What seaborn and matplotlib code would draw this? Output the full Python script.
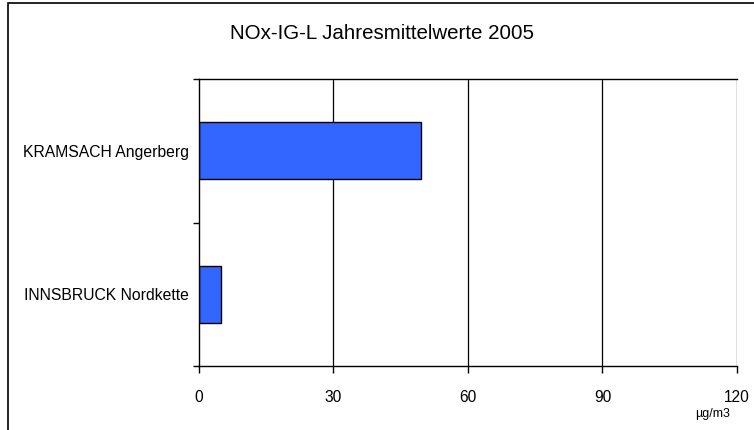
"""
NOx IG-L Jahresmittelwerte 2005 - horizontales Balkendiagramm
"""

import matplotlib
matplotlib.use("Agg")
import matplotlib.pyplot as plt
import pandas as pd
import seaborn as sns
from matplotlib.patches import Rectangle
from matplotlib.ticker import FixedLocator

stationen = ["KRAMSACH Angerberg", "INNSBRUCK Nordkette"]
werte = [49.6, 4.9]
x_ticks = [0, 30, 60, 90, 120]
titel = "NOx-IG-L Jahresmittelwerte 2005"
einheit = "µg/m3"

sns.set_theme(style="white")
plt.rcParams["font.family"] = ["Liberation Sans", "DejaVu Sans"]
plt.rcParams["text.color"] = "black"
plt.rcParams["xtick.color"] = "black"
plt.rcParams["ytick.color"] = "black"

df = pd.DataFrame({"station": stationen, "wert": werte})

fig = plt.figure(figsize=(7.54, 4.30), dpi=100)
ax = fig.add_axes([0.2639, 0.1488, 0.7135, 0.6674])

sns.barplot(data=df, y="station", x="wert", orient="h", color="#3366FF",
            saturation=1, width=0.4, edgecolor="black", linewidth=1, ax=ax)

ax.set_xlim(0, 120)
ax.set_ylim(1.5, -0.5)
ax.set_xticks(x_ticks)
ax.set_xticklabels([str(t) for t in x_ticks], fontsize=11.2)
ax.set_xlabel("")
ax.set_ylabel("")
ax.set_yticklabels(stationen, fontsize=11.3)
ax.yaxis.set_minor_locator(FixedLocator([-0.5, 0.5, 1.5]))
ax.tick_params(axis="y", which="major", length=0, pad=7)
ax.tick_params(axis="y", which="minor", length=4, width=1, color="black", left=True)
ax.tick_params(axis="x", which="major", length=5, width=1, color="black",
               bottom=True, pad=12)

ax.grid(False)
for t in x_ticks[1:]:
    ax.axvline(t, color="black", lw=0.9, zorder=0)

for side in ["left", "bottom", "top"]:
    ax.spines[side].set_visible(True)
    ax.spines[side].set_color("black")
    ax.spines[side].set_linewidth(1)
ax.spines["right"].set_visible(False)

fig.text(0.507, 0.922, titel, ha="center", va="center", fontsize=14.8)
fig.text(0.9456, 0.038, einheit, ha="center", va="center", fontsize=9)

# Rahmen um das Diagramm (rechts und unten abgeschnitten)
fig.patches.append(Rectangle((8 / 754, -0.1), 1.2, 1.1 - 3 / 430,
                             transform=fig.transFigure, fill=False,
                             edgecolor="black", linewidth=1.2))

fig.savefig("out.png", dpi=100)
plt.close(fig)
